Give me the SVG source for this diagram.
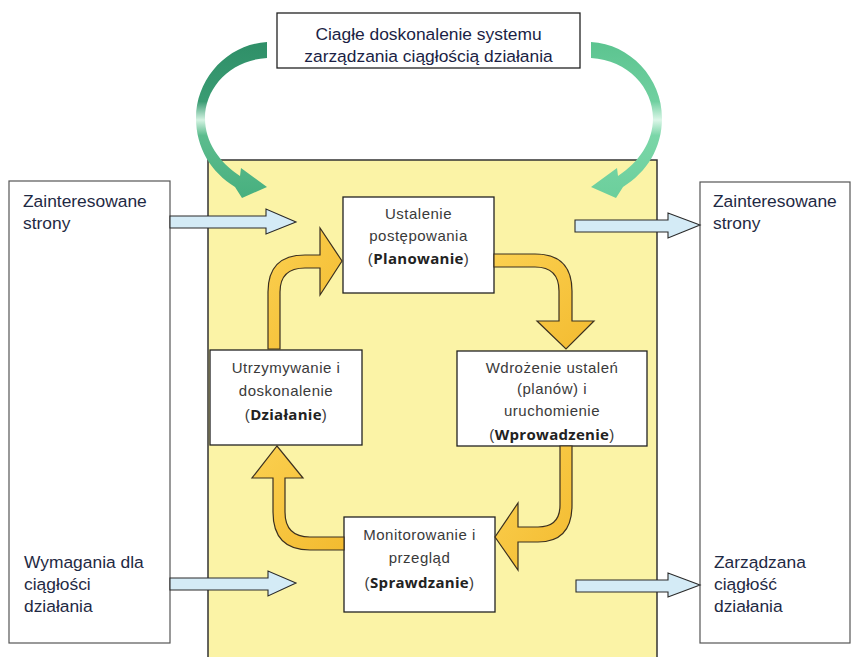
<svg xmlns="http://www.w3.org/2000/svg" width="852" height="657" viewBox="0 0 852 657">
<defs>
<style>
.box{fill:#fff;stroke:#222;stroke-width:1.3}
.side{fill:#fff;stroke:#555;stroke-width:1.2}
.blue{fill:#d4ebf6;stroke:#2a2a2a;stroke-width:1.1;stroke-linejoin:miter}
.orange{fill:url(#og);stroke:#3b3020;stroke-width:1.2;stroke-linejoin:miter}
.t{font-family:"Liberation Sans",Arial,sans-serif;font-size:15px;fill:#3a3a3a;text-anchor:middle;letter-spacing:0.5px}
.b{font-family:"Open Sans","DejaVu Sans",sans-serif;font-weight:bold;font-size:15px;fill:#222;letter-spacing:0.3px}
.s{font-family:"Liberation Sans",Arial,sans-serif;font-size:17.4px;fill:#1f2a44}
.top{font-family:"Liberation Sans",Arial,sans-serif;font-size:17.4px;fill:#1b1f45;text-anchor:middle}
</style>
<linearGradient id="og" x1="0" y1="0" x2="1" y2="1">
<stop offset="0" stop-color="#fbd050"/>
<stop offset="1" stop-color="#f3bb30"/>
</linearGradient>
<linearGradient id="gl" gradientUnits="userSpaceOnUse" x1="0" y1="43" x2="0" y2="197">
<stop offset="0" stop-color="#2f8f68"/>
<stop offset="0.38" stop-color="#3a9c73"/>
<stop offset="0.5" stop-color="#d4f3e2"/>
<stop offset="0.6" stop-color="#5cbc8e"/>
<stop offset="1" stop-color="#48b07f"/>
</linearGradient>
<linearGradient id="gr" gradientUnits="userSpaceOnUse" x1="0" y1="43" x2="0" y2="197">
<stop offset="0" stop-color="#5cc490"/>
<stop offset="0.38" stop-color="#70d0a0"/>
<stop offset="0.5" stop-color="#dcf6e8"/>
<stop offset="0.6" stop-color="#7ad6a8"/>
<stop offset="1" stop-color="#6ccf9c"/>
</linearGradient>
</defs>
<rect width="852" height="657" fill="#fff"/>

<g id="background">
<rect x="208" y="160" width="449" height="520" fill="#fbf3a6" stroke="#333" stroke-width="1.5"/>
</g>

<g id="node-top">
<rect x="277" y="13" width="303" height="55" class="box"/>
<text x="428.5" y="40" class="top">Ciagłe doskonalenie systemu</text>
<text x="428.5" y="62" class="top">zarządzania ciągłością działania</text>
</g>

<g id="node-left">
<rect x="9" y="181" width="161" height="462" class="side"/>
<text x="23" y="207" class="s">Zainteresowane</text>
<text x="23" y="229" class="s">strony</text>
<text x="24" y="568" class="s">Wymagania dla</text>
<text x="24" y="590" class="s">ciągłości</text>
<text x="24" y="612" class="s">działania</text>
</g>

<g id="node-right">
<rect x="700" y="182" width="150" height="461" class="side" stroke="#777"/>
<text x="713" y="207" class="s">Zainteresowane</text>
<text x="713" y="229" class="s">strony</text>
<text x="714" y="568" class="s">Zarządzana</text>
<text x="714" y="590" class="s">ciągłość</text>
<text x="714" y="612" class="s">działania</text>
</g>

<g id="node-plan">
<rect x="343" y="197" width="151" height="96" class="box"/>
<text x="418.5" y="219" class="t">Ustalenie</text>
<text x="418.5" y="241" class="t">postępowania</text>
<text x="418.5" y="264" class="t">(<tspan class="b">Planowanie</tspan>)</text>
</g>

<g id="node-do">
<rect x="457" y="351" width="190" height="95" class="box"/>
<text x="552" y="373" class="t">Wdrożenie ustaleń</text>
<text x="552" y="394" class="t">(planów) i</text>
<text x="552" y="416" class="t">uruchomienie</text>
<text x="552" y="440" class="t">(<tspan class="b">Wprowadzenie</tspan>)</text>
</g>

<g id="node-act">
<rect x="210" y="350" width="152" height="95" class="box"/>
<text x="286" y="373" class="t">Utrzymywanie i</text>
<text x="286" y="396" class="t">doskonalenie</text>
<text x="286" y="420" class="t">(<tspan class="b">Działanie</tspan>)</text>
</g>

<g id="node-check">
<rect x="344" y="517" width="151" height="95" class="box"/>
<text x="419.5" y="540" class="t">Monitorowanie i</text>
<text x="419.5" y="563" class="t">przegląd</text>
<text x="419.5" y="588" class="t">(<tspan class="b">Sprawdzanie</tspan>)</text>
</g>

<g id="connectors">
<path class="blue" d="M170,216 L266,216 L266,209 L296,222 L266,234 L266,228 L170,228 Z"/>
<path class="blue" d="M170,578 L268,578 L268,571 L296,583 L268,596 L268,590 L170,590 Z"/>
<path class="blue" d="M575,220 L668,220 L668,213 L700,225 L668,238 L668,232 L575,232 Z"/>
<path class="blue" d="M576,580 L668,580 L668,573 L700,585 L668,597 L668,592 L576,592 Z"/>

<path class="orange" d="M268,349 L268,292 Q268,255 305,255 L320,255 L320,228 L342,261 L320,295 L320,268 L305,268 Q280,268 280,292 L280,349 Z"/>
<path class="orange" d="M494,254 L535,254 Q572,254 572,291 L572,321 L594,321 L566,349 L537,321 L559,321 L559,291 Q559,267 535,267 L494,267 Z"/>
<path class="orange" d="M560,446 L560,505 Q560,527 538,527 L518,527 L518,503 L495,537 L518,570 L518,542 L538,542 Q572,542 572,505 L572,446 Z"/>
<path class="orange" d="M344,537 L310,537 Q285,537 285,512 L285,478 L303,478 L277,446 L252,478 L273,478 L273,512 Q273,550 310,550 L344,550 Z"/>

<path fill="url(#gl)" d="M267,42 C228,44 196,78 196,118 C196,148 211,172 235,187 L242,198 L267,187 L241,168 L240,176 C219,162 205,142 205,118 C205,88 230,60 267,58 Z"/>
<path fill="url(#gr)" transform="translate(858,0) scale(-1,1)" d="M267,42 C228,44 196,78 196,118 C196,148 211,172 235,187 L242,198 L267,187 L241,168 L240,176 C219,162 205,142 205,118 C205,88 230,60 267,58 Z"/>
</g>
</svg>
